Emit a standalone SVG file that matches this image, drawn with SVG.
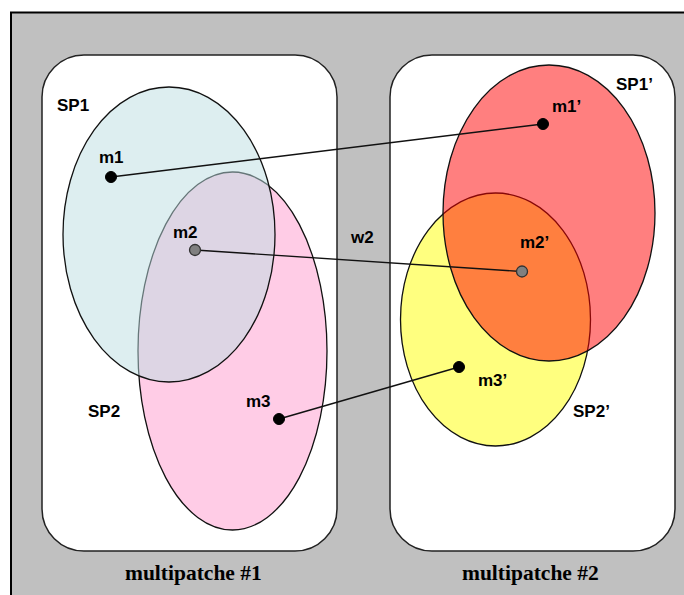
<svg xmlns="http://www.w3.org/2000/svg" width="684" height="595" viewBox="0 0 684 595">
<defs>
<style>
.box{fill:#FFFFFF;stroke:#222;stroke-width:1.5}
.reg{stroke:#111;stroke-width:1.3}
.lbl{font-family:"Liberation Sans",Arial,sans-serif;font-weight:bold;font-size:17px;fill:#000}
.cap{font-family:"Liberation Serif","Times New Roman",serif;font-weight:bold;font-size:21.5px;fill:#000}
.pt{fill:#000;stroke:#000;stroke-width:1}
.ptg{fill:#808080;stroke:#333;stroke-width:1.3}
.con{stroke:#111;stroke-width:1.4;fill:none}
</style>
</defs>
<rect x="0" y="0" width="684" height="595" fill="#FFFFFF"/>
<rect x="11" y="12.5" width="700" height="600" fill="#C0C0C0" stroke="#000" stroke-width="2"/>
<g id="multipatch1">
<rect class="box" x="42" y="55" width="295" height="496" rx="42" ry="42"/>
<text class="cap" x="125" y="580">multipatche #1</text>
</g>
<g id="multipatch2">
<rect class="box" x="390" y="55" width="285" height="496" rx="42" ry="42"/>
<text class="cap" x="462" y="580">multipatche #2</text>
</g>
<g id="SP2">
<ellipse class="reg" cx="232.5" cy="351" rx="94.5" ry="179" fill="#FFCCE6"/>
<text class="lbl" x="88" y="417">SP2</text>
</g>
<g id="SP1">
<ellipse class="reg" cx="169" cy="234.5" rx="106" ry="147.5" fill="#BBDDE1" fill-opacity="0.5"/>
<text class="lbl" x="57" y="111">SP1</text>
</g>
<g id="SP2p">
<ellipse class="reg" cx="495.5" cy="319.5" rx="95" ry="126.5" fill="#FFFF00" fill-opacity="0.5"/>
<text class="lbl" x="573" y="417">SP2’</text>
</g>
<g id="SP1p">
<ellipse class="reg" cx="549" cy="213" rx="106" ry="148" fill="#FF0000" fill-opacity="0.5"/>
<text class="lbl" x="616" y="90">SP1’</text>
</g>
<g id="connectors">
<line class="con" x1="111" y1="177" x2="543" y2="124"/>
<line class="con" x1="195" y1="250" x2="522" y2="271.5"/>
<line class="con" x1="279" y1="419" x2="459" y2="367"/>
<text class="lbl" x="351" y="243">w2</text>
</g>
<g id="m1">
<circle class="pt" cx="111" cy="177" r="5.5"/>
<text class="lbl" x="99" y="163">m1</text>
</g>
<g id="m2">
<circle class="ptg" cx="195" cy="250" r="5.5"/>
<text class="lbl" x="173" y="238">m2</text>
</g>
<g id="m3">
<circle class="pt" cx="279" cy="419" r="5.5"/>
<text class="lbl" x="246" y="407">m3</text>
</g>
<g id="m1p">
<circle class="pt" cx="543" cy="124" r="5.5"/>
<text class="lbl" x="552" y="112">m1’</text>
</g>
<g id="m2p">
<circle class="ptg" cx="522" cy="271.5" r="5.5"/>
<text class="lbl" x="520" y="248">m2’</text>
</g>
<g id="m3p">
<circle class="pt" cx="459" cy="367" r="5.5"/>
<text class="lbl" x="478" y="386">m3’</text>
</g>
</svg>
